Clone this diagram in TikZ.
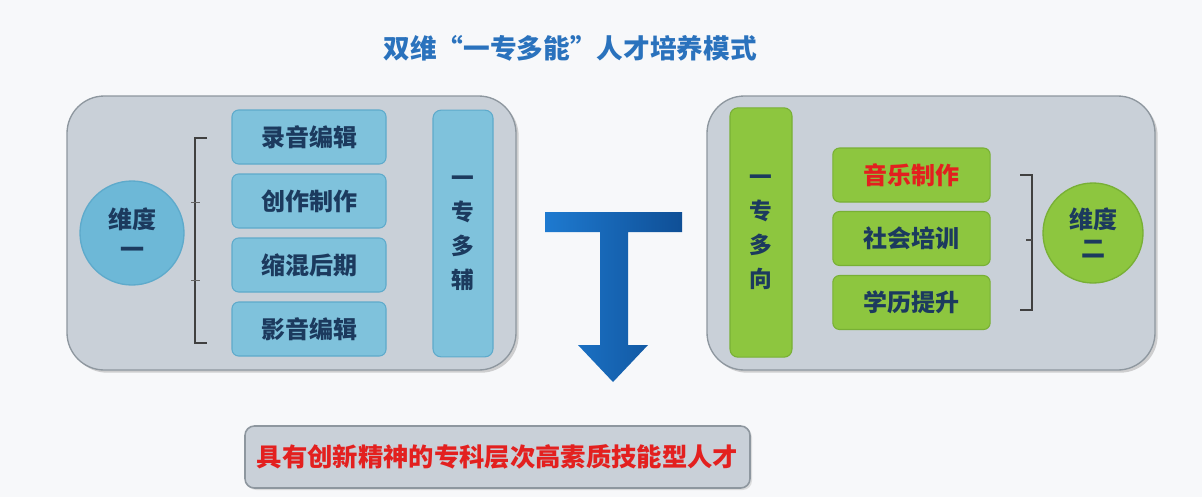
\documentclass[tikz,border=0pt]{standalone}
\usepackage{fontspec}
\setmainfont{Noto Sans CJK SC}
\usetikzlibrary{shadows}
\definecolor{bgc}{HTML}{F7F8FA}
\definecolor{panel}{HTML}{C9D0D8}
\definecolor{panelb}{HTML}{8E979F}
\definecolor{bluebox}{HTML}{7FC2DC}
\definecolor{blueboxb}{HTML}{5EAACB}
\definecolor{bluecirc}{HTML}{6DB8D7}
\definecolor{greenbox}{HTML}{8DC63F}
\definecolor{greenboxb}{HTML}{78B035}
\definecolor{navy}{HTML}{1C3A5E}
\definecolor{titleblue}{HTML}{2A72BD}
\definecolor{redtxt}{HTML}{E3201F}
\definecolor{arrowl}{HTML}{1E7AD0}
\definecolor{arrowd}{HTML}{0F4F96}
\tikzset{
  panelbox/.style={draw=panelb, line width=1pt, fill=panel, rounded corners=28pt,
    drop shadow={shadow xshift=2pt, shadow yshift=-2pt, fill=black!35, opacity=0.5}},
  bbox/.style={draw=blueboxb, line width=0.8pt, fill=bluebox, rounded corners=5pt,
    minimum width=115.5pt, minimum height=40.5pt, inner sep=0pt,
    font=\fontsize{18}{20}\selectfont\bfseries, text=navy},
  gbox/.style={draw=greenboxb, line width=0.8pt, fill=greenbox, rounded corners=5pt,
    minimum width=118pt, minimum height=40.5pt, inner sep=0pt,
    font=\fontsize{18}{20}\selectfont\bfseries, text=navy},
  vbox/.style={rounded corners=6pt, inner sep=0pt, align=center,
    font=\fontsize{17}{25.5}\selectfont\bfseries, text=navy},
  circ/.style={circle, inner sep=0pt, align=center, line width=1pt,
    font=\fontsize{18}{22}\selectfont\bfseries, text=navy},
  brk/.style={draw=black!75, line width=1.1pt},
}
\begin{document}
\begin{tikzpicture}[x=0.75pt,y=-0.75pt]
\fill[bgc] (0,0) rectangle (1202,497);
\useasboundingbox (0,0) rectangle (1202,497);

% title
\node[font=\fontsize{20}{24}\selectfont\bfseries, text=titleblue] (title) at (570,48) {双维“一专多能”人才培养模式};

% panels
\node[panelbox, minimum width=336.75pt, minimum height=205.5pt] (lp) at (291.5,233) {};
\node[panelbox, minimum width=336pt, minimum height=205.5pt] (rp) at (931,233) {};

% left content
\node[circ, draw=blueboxb, fill=bluecirc, minimum size=78pt] (d1) at (132,233) {维度\\一};
\node[bbox] (b1) at (309,137) {录音编辑};
\node[bbox] (b2) at (309,201) {创作制作};
\node[bbox] (b3) at (309,265) {缩混后期};
\node[bbox] (b4) at (309,329) {影音编辑};
\node[vbox, draw=blueboxb, line width=0.8pt, fill=bluebox, minimum width=45pt, minimum height=185pt] (v1) at (463,233.5) {一\\专\\多\\辅};

\draw[brk] (207,138) -- (195,138) -- (195,343) -- (207,343);
\draw[black!60, line width=0.6pt] (191,202) -- (200,202);
\draw[black!60, line width=0.6pt] (191,280) -- (200,280);

% right content
\node[vbox, draw=greenboxb, line width=0.8pt, fill=greenbox, minimum width=46.5pt, minimum height=187pt] (v2) at (761,232.5) {一\\专\\多\\向};
\node[gbox, text=redtxt] (g1) at (911.5,175) {音乐制作};
\node[gbox] (g2) at (911.5,238.5) {社会培训};
\node[gbox] (g3) at (911.5,302.5) {学历提升};
\node[circ, draw=greenboxb, fill=greenbox, minimum size=75pt] (d2) at (1093,233) {维度\\二};

\draw[brk] (1020,175) -- (1032,175) -- (1032,310) -- (1020,310);
\draw[black!70, line width=0.8pt] (1026,240) -- (1032,240);

% T arrow
\shade[left color=arrowl, right color=arrowd]
  (545,212) -- (682,212) -- (682,232) -- (628,232) -- (628,345) -- (648,345)
  -- (613,382) -- (578,345) -- (600,345) -- (600,232) -- (545,232) -- cycle;

% bottom result
\node[draw=panelb, line width=1.2pt, fill=panel, rounded corners=7pt,
  minimum width=378.75pt, minimum height=46.5pt, inner sep=0pt,
  font=\fontsize{19}{22}\selectfont\bfseries, text=redtxt,
  drop shadow={shadow xshift=1.5pt, shadow yshift=-1.5pt, fill=black!30, opacity=0.4}]
  (res) at (497.5,457) {具有创新精神的专科层次高素质技能型人才};
\end{tikzpicture}
\end{document}
